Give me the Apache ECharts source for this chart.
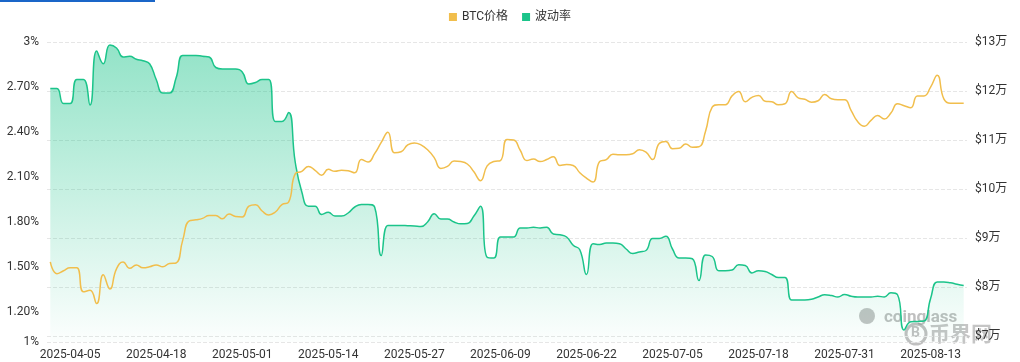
<!DOCTYPE html>
<html>
<head>
<meta charset="utf-8">
<script src="https://cdn.jsdelivr.net/npm/echarts@6/dist/echarts.min.js"></script>
<style>
html,body{margin:0;padding:0;background:#fff;}
#chart{width:1020px;height:362px;}
</style>
</head>
<body>
<div id="chart"></div>
<script>
// ---- data ----
var startDate = '2025-04-02';
var dayCount = 139;
var categories = [];
(function(){
  var d = new Date(startDate + 'T00:00:00Z');
  for (var k = 0; k < dayCount; k++) {
    var t = new Date(d.getTime() + k * 86400000);
    categories.push(t.toISOString().slice(0, 10));
  }
})();

var seriesNames = ['BTC价格', '波动率'];

var btcPrice = [
  85100, 82700, 83300, 83900, 83900, 79000, 79300, 76600, 82500, 79600,
  83700, 85100, 83800, 84500, 83900, 84100, 84500, 84100, 84800, 84900,
  89500, 93500, 93700, 94000, 94600, 94600, 93900, 94900, 94400, 94300,
  96500, 96800, 95500, 94700, 95300, 96800, 97300, 103100, 103600, 104600,
  103800, 102800, 104000, 103600, 103800, 103700, 103300, 106000, 105500, 107200,
  109500, 111600, 107400, 107600, 109000, 109400, 109000, 108000, 106400, 104200,
  104600, 105700, 105600, 105100, 103500, 101700, 104700, 105600, 105800, 110100,
  110000, 107900, 105800, 106100, 105600, 106000, 106600, 104800, 105000, 104800,
  103300, 102200, 101400, 105600, 106000, 107100, 107000, 107000, 107200, 108000,
  107500, 106000, 109300, 109700, 108200, 108300, 109200, 108500, 108600, 111800,
  116700, 117200, 117200, 119000, 119900, 117800, 118700, 119100, 117900, 117800,
  117200, 117400, 119900, 118600, 118300, 117700, 118000, 119300, 118400, 118200,
  118200, 116000, 113700, 112800, 114000, 115000, 114300, 115500, 117400, 117000,
  116600, 119000, 119000, 120800, 123200, 118400, 117500, 117500, 117500
];

var volatility = [
  2.69, 2.69, 2.59, 2.59, 2.75, 2.75, 2.58, 2.94, 2.855, 2.98,
  2.96, 2.90, 2.905, 2.885, 2.875, 2.855, 2.75, 2.66, 2.66, 2.76,
  2.91, 2.91, 2.91, 2.905, 2.90, 2.83, 2.82, 2.82, 2.82, 2.80,
  2.72, 2.73, 2.75, 2.75, 2.47, 2.47, 2.53, 2.20, 2.00, 1.905,
  1.905, 1.85, 1.865, 1.84, 1.84, 1.86, 1.90, 1.917, 1.917, 1.90,
  1.577, 1.777, 1.777, 1.777, 1.775, 1.773, 1.77, 1.80, 1.855, 1.82,
  1.82, 1.80, 1.788, 1.79, 1.84, 1.905, 1.565, 1.56, 1.70, 1.70,
  1.70, 1.76, 1.76, 1.765, 1.76, 1.765, 1.72, 1.715, 1.70, 1.645,
  1.615, 1.45, 1.655, 1.65, 1.66, 1.66, 1.655, 1.62, 1.59, 1.60,
  1.61, 1.69, 1.69, 1.705, 1.62, 1.56, 1.56, 1.555, 1.41, 1.58,
  1.57, 1.475, 1.475, 1.48, 1.515, 1.51, 1.46, 1.475, 1.47, 1.45,
  1.43, 1.43, 1.28, 1.28, 1.28, 1.285, 1.30, 1.315, 1.31, 1.30,
  1.317, 1.305, 1.30, 1.30, 1.30, 1.305, 1.30, 1.328, 1.315, 1.08,
  1.135, 1.137, 1.14, 1.29, 1.40, 1.40, 1.395, 1.385, 1.377
];

// axis tick values
var volAxisMin = 1;
var volAxisMax = 3;
var volTicks = [1, 1.2, 1.5, 1.8, 2.1, 2.4, 2.7, 3];
var priceAxisMin = 68760;
var priceAxisMax = 130000;
var priceTicks = [70000, 80000, 90000, 100000, 110000, 120000, 130000];
var priceGridLines = [68760, 70000, 80000, 90000, 100000, 110000, 120000, 130000];

var firstLabelIndex = 3;
var labelStep = 13;

// ---- chart ----
var chart = echarts.init(document.getElementById('chart'), null, {renderer: 'canvas'});
var yellow = '#F1BE4C';
var green = '#1BC48A';

chart.setOption({
  animation: false,
  backgroundColor: '#ffffff',
  textStyle: {fontFamily: 'Roboto, "Noto Sans CJK SC", sans-serif'},
  legend: {
    data: seriesNames,
    top: 6,
    left: 'center',
    icon: 'rect',
    itemWidth: 8,
    itemHeight: 8,
    itemGap: 14,
    textStyle: {color: '#333', fontSize: 12}
  },
  grid: {left: 47, right: 53, top: 42, bottom: 20},
  graphic: [
    {type: 'rect', left: 0, top: 0, shape: {width: 155, height: 2}, style: {fill: '#1a66c8'}},
    {type: 'text', left: 884, top: 309, z: 0, style: {text: 'coinglass', fill: 'rgba(170,170,170,0.75)', font: 'bold 17px Roboto, sans-serif'}},
    {type: 'circle', shape: {cx: 867, cy: 316, r: 8}, z: 0, style: {fill: 'rgba(170,170,170,0.7)'}},
    {type: 'circle', shape: {cx: 916, cy: 334, r: 10}, z: 0, style: {fill: 'none', stroke: 'rgba(150,150,150,0.6)', lineWidth: 3}},
    {type: 'text', left: 911, top: 326, z: 0, style: {text: 'B', fill: 'rgba(150,150,150,0.6)', font: 'bold 14px Roboto, sans-serif'}},
    {type: 'text', left: 929, top: 323, z: 0, style: {text: '币界网', fill: 'rgba(150,150,150,0.55)', font: 'bold 21px "Noto Sans CJK SC", sans-serif'}}
  ],
  xAxis: {
    type: 'category',
    data: categories,
    boundaryGap: true,
    axisLine: {show: false},
    axisTick: {show: false},
    axisLabel: {
      color: '#333',
      fontSize: 12,
      margin: 7,
      interval: function (idx) { return idx >= firstLabelIndex && (idx - firstLabelIndex) % labelStep === 0; }
    },
    splitLine: {show: false}
  },
  yAxis: [
    {
      type: 'value',
      position: 'left',
      min: volAxisMin,
      max: volAxisMax,
      axisLine: {show: false},
      axisTick: {show: false, customValues: volTicks},
      splitLine: {show: false},
      axisLabel: {
        color: '#333',
        fontSize: 12,
        customValues: volTicks,
        formatter: function (v) {
          var r = Math.round(v * 100) / 100;
          return (Math.abs(r - Math.round(r)) < 1e-9) ? Math.round(r) + '%' : r.toFixed(2) + '%';
        }
      }
    },
    {
      type: 'value',
      position: 'right',
      min: priceAxisMin,
      max: priceAxisMax,
      axisLine: {show: false},
      axisTick: {show: false, customValues: priceGridLines},
      splitLine: {show: true, lineStyle: {type: 'dashed', color: '#e6e6e6', width: 1}},
      axisLabel: {
        color: '#333',
        fontSize: 12,
        customValues: priceTicks,
        formatter: function (v) { return '$' + Math.round(v / 10000) + '万'; }
      }
    }
  ],
  series: [
    {
      name: '波动率',
      type: 'line',
      yAxisIndex: 0,
      data: volatility,
      smooth: true,
      showSymbol: false,
      lineStyle: {color: green, width: 1.5},
      itemStyle: {color: green},
      areaStyle: {
        color: new echarts.graphic.LinearGradient(0, 0, 0, 1, [
          {offset: 0, color: 'rgba(27,196,138,0.68)'},
          {offset: 1, color: 'rgba(27,196,138,0.02)'}
        ])
      },
      z: 2
    },
    {
      name: 'BTC价格',
      type: 'line',
      yAxisIndex: 1,
      data: btcPrice,
      smooth: true,
      showSymbol: false,
      lineStyle: {color: yellow, width: 1.5},
      itemStyle: {color: yellow},
      z: 3
    }
  ]
});
</script>
</body>
</html>
